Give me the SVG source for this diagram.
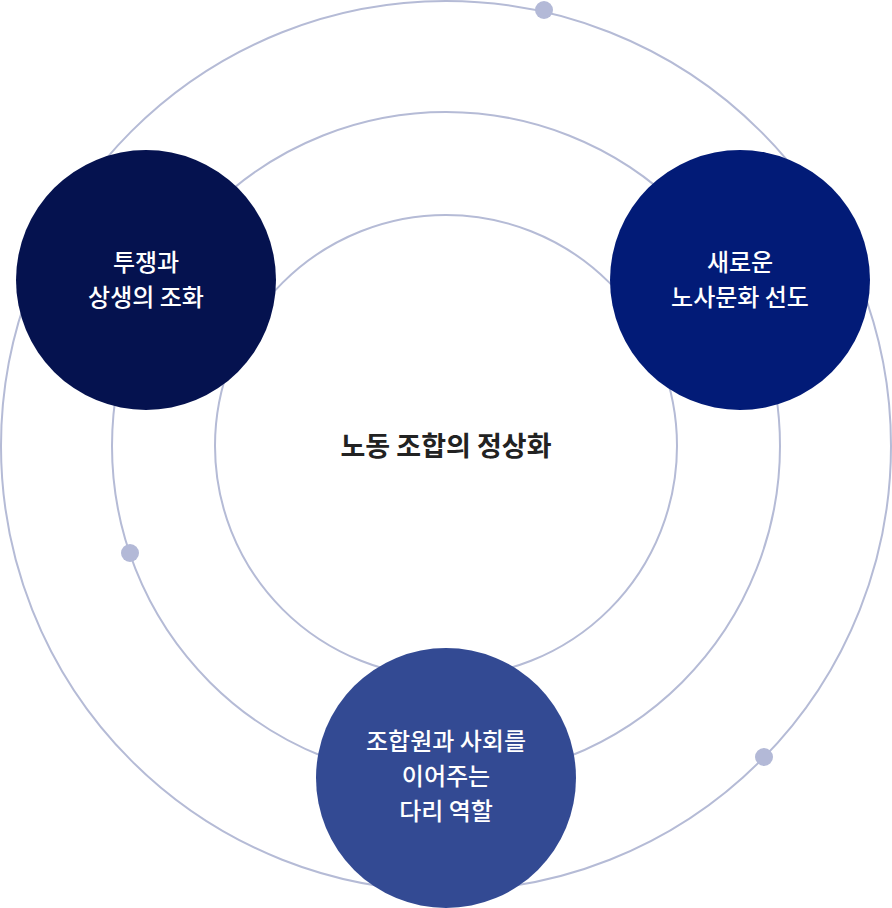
<svg xmlns="http://www.w3.org/2000/svg" width="892" height="908" viewBox="0 0 892 908">
<style>
.ring{fill:none;stroke:#b5bbd6;stroke-width:2}
.dot{fill:#b3b9d7}
.t{font-family:"Noto Sans CJK KR","Noto Sans",sans-serif;fill:#fff;font-size:24px;font-weight:500;text-anchor:middle}
.c{font-family:"Noto Sans CJK KR","Noto Sans",sans-serif;fill:#222;font-size:27px;font-weight:700;text-anchor:middle}
</style>
<rect width="892" height="908" fill="#fff"/>
<g id="rings">
<circle class="ring" cx="446" cy="446" r="445"/>
<circle class="ring" cx="446" cy="446" r="334"/>
<circle class="ring" cx="446" cy="446" r="231"/>
<circle class="dot" cx="544" cy="10" r="9"/>
<circle class="dot" cx="130" cy="553" r="9"/>
<circle class="dot" cx="764" cy="757" r="9"/>
</g>
<g id="center"><text class="c" x="446" y="456">노동 조합의 정상화</text></g>
<g id="n1"><circle cx="146" cy="280" r="130" fill="#05124f"/>
<text class="t" x="146" y="271">투쟁과</text><text class="t" x="146" y="306">상생의 조화</text></g>
<g id="n2"><circle cx="740" cy="280" r="130" fill="#021b77"/>
<text class="t" x="740" y="271">새로운</text><text class="t" x="740" y="306">노사문화 선도</text></g>
<g id="n3"><circle cx="446" cy="778" r="130" fill="#334a93"/>
<text class="t" x="446" y="750">조합원과 사회를</text><text class="t" x="446" y="785">이어주는</text><text class="t" x="446" y="820">다리 역할</text></g>
<g id="connectors"/>
</svg>
